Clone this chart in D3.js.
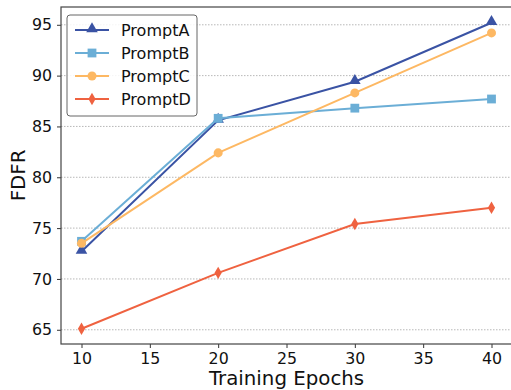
<!DOCTYPE html>
<html>
<head>
<meta charset="utf-8">
<script src="https://cdn.jsdelivr.net/npm/d3@7"></script>
<style>
  body { margin: 0; background: #fff; }
  text { font-family: "DejaVu Sans", sans-serif; }
</style>
</head>
<body>
<div id="chart-area"></div>
<script>
/* Data */
var epochs = [10, 20, 30, 40];
var seriesNames = ["PromptA", "PromptB", "PromptC", "PromptD"];
var promptA = [72.7, 85.6, 89.4, 95.2];
var promptB = [73.7, 85.8, 86.8, 87.7];
var promptC = [73.5, 82.4, 88.3, 94.2];
var promptD = [65.1, 70.6, 75.4, 77.0];
var xTicks = [10, 15, 20, 25, 30, 35, 40];
var yTicks = [65, 70, 75, 80, 85, 90, 95];

var colors = ["#3a53a4", "#6baed6", "#fdb863", "#ef6240"];
var shapes = ["triangle", "square", "circle", "diamond"];
var allSeries = [promptA, promptB, promptC, promptD];

/* Margins */
var margin = { left: 61, right: 0, top: 7, bottom: 46 };
var width = 451;
var height = 390 - margin.top - margin.bottom;

var svg = d3.select("#chart-area").append("svg")
  .attr("width", 511)
  .attr("height", 390);

var g = svg.append("g")
  .attr("transform", "translate(" + margin.left + ", " + margin.top + ")");

/* Scales */
var x = d3.scaleLinear().domain([8.5, 41.5]).range([0, width]);
var y = d3.scaleLinear().domain([63.6, 96.75]).range([height, 0]);

/* Grid */
g.selectAll(".grid")
  .data(yTicks)
  .enter()
  .append("line")
    .attr("x1", 0)
    .attr("x2", width)
    .attr("y1", (d) => y(d))
    .attr("y2", (d) => y(d))
    .attr("stroke", "#b0b0b0")
    .attr("stroke-width", 0.9)
    .attr("stroke-dasharray", "1.5,1.5");

/* Axes */
var xAxisCall = d3.axisBottom(x).tickValues(xTicks).tickSize(4).tickPadding(5);
var yAxisCall = d3.axisLeft(y).tickValues(yTicks).tickSize(4).tickPadding(5);

var xAx = g.append("g")
  .attr("transform", "translate(0, " + height + ")")
  .call(xAxisCall);
var yAx = g.append("g").call(yAxisCall);

[xAx, yAx].forEach((a) => {
  a.select(".domain").remove();
  a.selectAll("line").attr("stroke", "#333");
  a.selectAll("text")
    .attr("font-size", "15.8px")
    .attr("fill", "#111")
    .style("font-family", "DejaVu Sans");
});

/* Spines */
g.append("rect")
  .attr("x", 0).attr("y", 0)
  .attr("width", width).attr("height", height)
  .attr("fill", "none")
  .attr("stroke", "#444")
  .attr("stroke-width", 1.2);

/* Labels */
g.append("text")
  .attr("x", width / 2)
  .attr("y", height + 41)
  .attr("font-size", "19.8px")
  .attr("text-anchor", "middle")
  .attr("fill", "#111")
  .text("Training Epochs");
g.append("text")
  .attr("x", -(height / 2))
  .attr("y", -36)
  .attr("font-size", "19.8px")
  .attr("text-anchor", "middle")
  .attr("fill", "#111")
  .attr("transform", "rotate(-90)")
  .text("FDFR");

/* Markers */
function markerPath(shape) {
  if (shape === "triangle") return d3.symbol().type(d3.symbolTriangle).size(58)();
  if (shape === "square") return "M-4.4,-4.4H4.4V4.4H-4.4Z";
  if (shape === "circle") return d3.symbol().type(d3.symbolCircle).size(64)();
  return "M0,-6.2L3.6,0L0,6.2L-3.6,0Z";
}

var line = d3.line()
  .x((d, i) => x(epochs[i]))
  .y((d) => y(d));

allSeries.forEach((data, k) => {
  g.append("path")
    .datum(data)
    .attr("d", line)
    .attr("fill", "none")
    .attr("stroke", colors[k])
    .attr("stroke-width", 2);

  g.selectAll(".m" + k)
    .data(data)
    .enter()
    .append("path")
      .attr("class", "m" + k)
      .attr("d", markerPath(shapes[k]))
      .attr("transform", (d, i) => "translate(" + x(epochs[i]) + "," + (y(d) + (shapes[k] === "triangle" ? -1 : 0)) + ")")
      .attr("fill", colors[k]);
});

/* Legend */
var legend = svg.append("g").attr("transform", "translate(67, 15)");
legend.append("rect")
  .attr("width", 130)
  .attr("height", 101)
  .attr("rx", 3)
  .attr("fill", "#fff")
  .attr("fill-opacity", 0.85)
  .attr("stroke", "#666")
  .attr("stroke-width", 1);

seriesNames.forEach((name, k) => {
  var row = legend.append("g").attr("transform", "translate(0, " + (15 + k * 23) + ")");
  row.append("line")
    .attr("x1", 8).attr("x2", 42)
    .attr("stroke", colors[k])
    .attr("stroke-width", 2);
  row.append("path")
    .attr("d", markerPath(shapes[k]))
    .attr("transform", "translate(25," + (shapes[k] === "triangle" ? -1 : 0) + ")")
    .attr("fill", colors[k]);
  row.append("text")
    .attr("x", 54)
    .attr("y", 6)
    .attr("font-size", "16px")
    .attr("fill", "#111")
    .text(name);
});
</script>
</body>
</html>
